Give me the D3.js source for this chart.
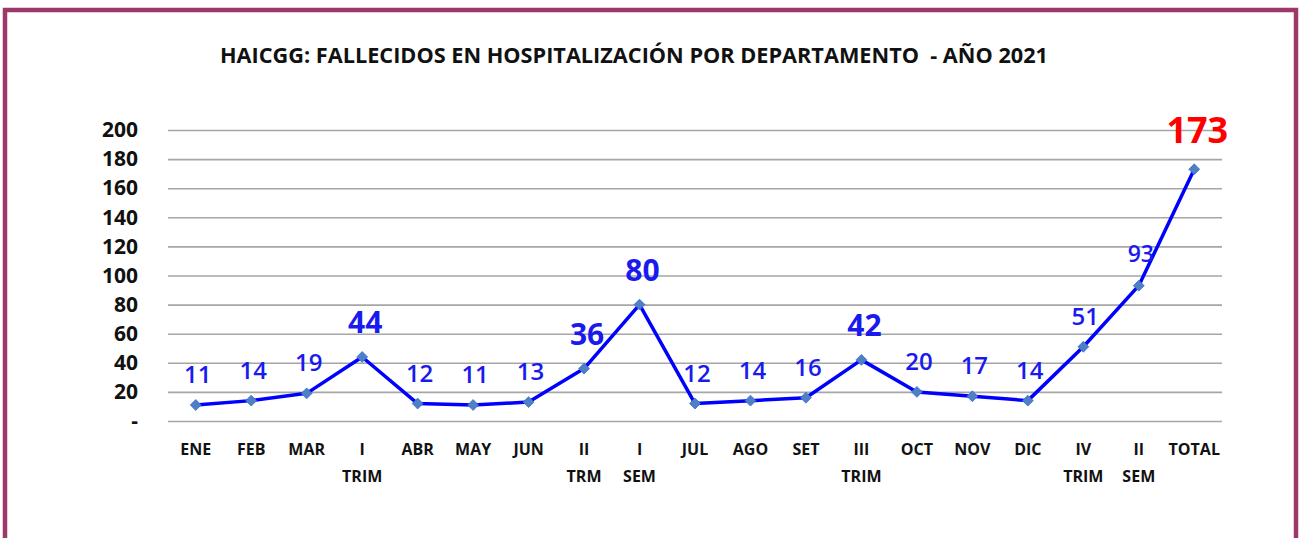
<!DOCTYPE html>
<html><head><meta charset="utf-8">
<script src="https://cdn.jsdelivr.net/npm/d3@7"></script>
<style>body{margin:0;background:#fff;}svg{display:block;}</style>
</head><body>
<svg id="c" width="1301" height="538"></svg>
<script>
const categories = [["ENE"],["FEB"],["MAR"],["I","TRIM"],["ABR"],["MAY"],["JUN"],["II","TRM"],["I","SEM"],["JUL"],["AGO"],["SET"],["III","TRIM"],["OCT"],["NOV"],["DIC"],["IV","TRIM"],["II","SEM"],["TOTAL"]];
const values = [11,14,19,44,12,11,13,36,80,12,14,16,42,20,17,14,51,93,173];
const labelKind = ["n","n","n","b","n","n","n","b","b","n","n","n","b","n","n","n","n","s","t"];
const yTicks = [0,20,40,60,80,100,120,140,160,180,200];
const title = "HAICGG: FALLECIDOS EN HOSPITALIZACIÓN POR DEPARTAMENTO  - AÑO 2021";

const svg = d3.select("#c");
const F = "'Open Sans', Roboto, sans-serif";

svg.append("rect").attr("x",5).attr("y",10).attr("width",1291).attr("height",560)
  .attr("fill","none").attr("stroke","#9c386a").attr("stroke-width",4.5);

svg.append("text").attr("x",634).attr("y",63).attr("text-anchor","middle")
  .attr("font-family",F).attr("font-weight","bold").attr("font-size",21)
  .attr("fill","#111").attr("textLength",828).attr("lengthAdjust","spacingAndGlyphs")
  .style("white-space","pre").text(title);

const x = d3.scaleBand().domain(d3.range(values.length)).range([168,1222]).padding(0);
const y = d3.scaleLinear().domain([0,200]).range([421,130]);

const gy = svg.append("g").attr("transform","translate(168,0)")
  .call(d3.axisLeft(y).tickValues(yTicks).tickSize(-1054).tickFormat(d=> d===0 ? "-" : d));
gy.select(".domain").remove();
gy.selectAll(".tick line").attr("stroke","#a6a6a6").attr("stroke-width",1.6);
gy.selectAll(".tick text").attr("x",-30).attr("font-family",F).attr("font-weight","bold")
  .attr("font-size",21).attr("fill","#111");

const gx = svg.append("g");
categories.forEach((c,i)=>{
  const t = gx.append("text").attr("text-anchor","middle").attr("font-family",F)
    .attr("font-weight","bold").attr("font-size",16).attr("fill","#111");
  c.forEach((s,j)=> t.append("tspan").attr("x", x(i)+x.bandwidth()/2).attr("y",455+j*27).text(s));
});

const cx = i => x(i)+x.bandwidth()/2;
const line = d3.line().x((d,i)=>cx(i)).y(d=>y(d));
svg.append("path").datum(values).attr("d",line).attr("fill","none")
  .attr("stroke","#0000ff").attr("stroke-width",3.5).attr("stroke-linejoin","round");

svg.selectAll(".mk").data(values).enter().append("path")
  .attr("transform",(d,i)=>`translate(${cx(i)},${y(d)})`)
  .attr("d",d3.symbol().type(d3.symbolDiamond2).size(75)())
  .attr("fill","#4f7fc4").attr("stroke","#3a6cd0").attr("stroke-width",0.8);

const styles = {
  n:{size:24, weight:600, color:"#1a1aee", off:22, dx:2},
  s:{size:23, weight:600, color:"#1a1aee", off:24, dx:2},
  b:{size:30, weight:"bold", color:"#1a1aee", off:24, dx:3},
  t:{size:36, weight:"bold", color:"#ff0000", off:26, dx:3}
};
svg.selectAll(".lb").data(values).enter().append("text")
  .attr("x",(d,i)=>cx(i)+styles[labelKind[i]].dx)
  .attr("y",(d,i)=>y(d)-styles[labelKind[i]].off)
  .attr("text-anchor","middle").attr("font-family",F)
  .attr("font-weight",(d,i)=>styles[labelKind[i]].weight)
  .attr("font-size",(d,i)=>styles[labelKind[i]].size)
  .attr("fill",(d,i)=>styles[labelKind[i]].color)
  .text(d=>d);
</script>
</body></html>
